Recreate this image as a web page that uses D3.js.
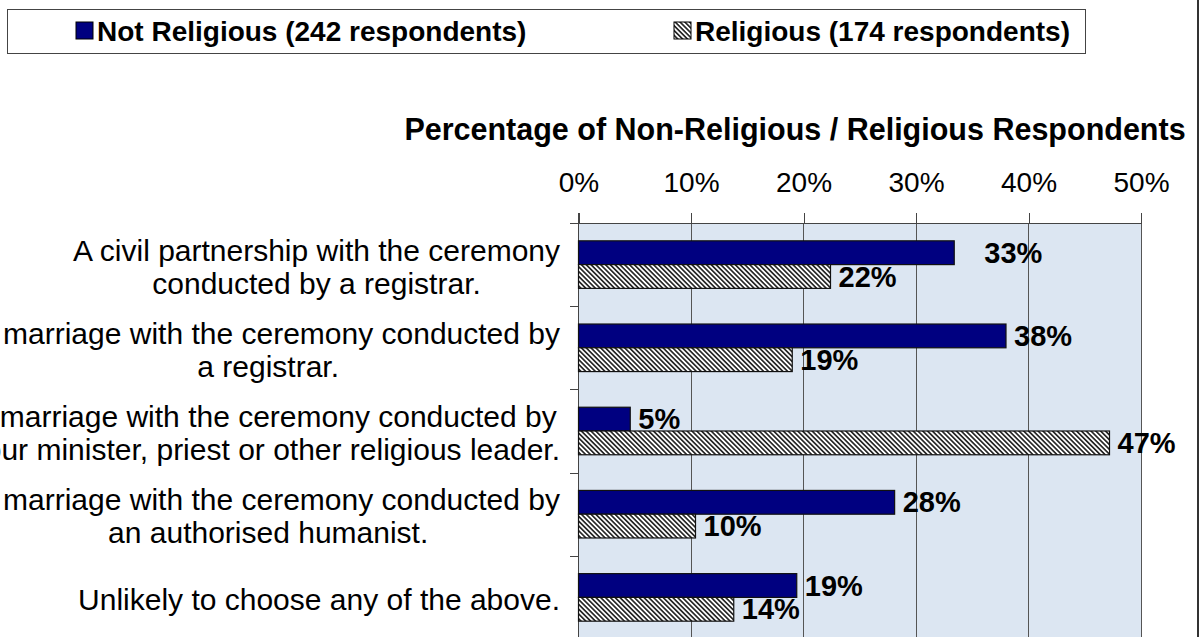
<!doctype html>
<html>
<head>
<script src="https://cdn.jsdelivr.net/npm/d3@7/dist/d3.min.js"></script>
<style>
  body { margin: 0; background: #fff; }
  svg { display: block; font-family: "Liberation Sans", Arial, sans-serif; }
  .grid line { stroke: #555; shape-rendering: crispEdges; }
  .axis path, .axis line { stroke: #444; shape-rendering: crispEdges; }
  .axis text { fill: #000; font-size: 28px; }
</style>
</head>
<body>
<svg width="1204" height="637"></svg>
<script>
// chart data
var categories = [
  ["A civil partnership with the ceremony", "conducted by a registrar."],
  ["A marriage with the ceremony conducted by", "a registrar."],
  ["A marriage with the ceremony conducted by", "your minister, priest or other religious leader."],
  ["A marriage with the ceremony conducted by", "an authorised humanist."],
  ["Unlikely to choose any of the above."]
];
var seriesNames = ["Not Religious (242 respondents)", "Religious (174 respondents)"];
var notReligious = [33.4, 38.0, 4.6, 28.1, 19.4];
var religious = [22.4, 19.0, 47.2, 10.4, 13.8];
var xTicks = [0, 10, 20, 30, 40, 50];
var axisTitle = "Percentage of Non-Religious / Religious Respondents";

var rows = categories.map((c, i) => ({ i: i, lines: c, values: [notReligious[i], religious[i]] }));

var svg = d3.select("svg");
var plotTop = 223, plotBottom = 639, plotLeft = 578.5, plotRight = 1141;

var x = d3.scaleLinear().domain([0, 50]).range([plotLeft, plotRight]);
var y = d3.scaleBand().domain(d3.range(categories.length)).range([plotTop, plotBottom]);
var ySub = d3.scaleBand().domain([0, 1]).range([0, y.bandwidth()]).paddingOuter(0.75);
var yEdge = d3.scaleLinear().domain([0, categories.length]).range([plotTop, plotBottom]);

// hatch pattern for the religious series
var defs = svg.append("defs");
var pat = defs.append("pattern")
  .attr("id", "hatch")
  .attr("patternUnits", "userSpaceOnUse")
  .attr("width", 3.4).attr("height", 3.4)
  .attr("patternTransform", "rotate(-45)");
pat.append("rect").attr("width", 3.4).attr("height", 3.4).attr("fill", "#fff");
pat.append("rect").attr("width", 1.7).attr("height", 3.4).attr("fill", "#2a2a2a");

var fills = ["#000080", "url(#hatch)"];

// outer frame edge
svg.append("line")
  .attr("x1", 1198).attr("x2", 1198).attr("y1", 0).attr("y2", 637)
  .attr("stroke", "#333").attr("stroke-width", 2);

// legend
svg.append("rect")
  .attr("x", 7.5).attr("y", 9.5).attr("width", 1078).attr("height", 44)
  .attr("fill", "#fff").attr("stroke", "#444");
var legendX = [76, 674];
var leg = svg.selectAll("g.legend")
  .data(seriesNames)
  .enter()
  .append("g")
    .attr("class", "legend")
    .attr("transform", (d, i) => `translate(${legendX[i]},22)`);
leg.append("rect")
  .attr("width", 17).attr("height", 17)
  .attr("fill", (d, i) => fills[i])
  .attr("stroke", "#000").attr("stroke-width", 1);
leg.append("text")
  .attr("x", 21).attr("y", 19)
  .style("font-size", "28px").style("font-weight", "bold")
  .text(d => d);

// plot background
svg.append("rect")
  .attr("x", plotLeft).attr("y", plotTop)
  .attr("width", plotRight - plotLeft).attr("height", plotBottom - plotTop)
  .attr("fill", "#dce6f2");

// gridlines
svg.append("g").attr("class", "grid")
  .selectAll("line")
  .data(xTicks.slice(1))
  .enter()
  .append("line")
    .attr("x1", d => x(d)).attr("x2", d => x(d))
    .attr("y1", plotTop).attr("y2", plotBottom);

// axis title
svg.append("text")
  .attr("x", 795).attr("y", 140)
  .attr("text-anchor", "middle")
  .style("font-size", "30.5px").style("font-weight", "bold")
  .text(axisTitle);

// top value axis
svg.append("g").attr("class", "axis")
  .attr("transform", `translate(0,${plotTop})`)
  .call(d3.axisTop(x).tickValues(xTicks).tickFormat(d => d + "%").tickSize(10).tickSizeOuter(0).tickPadding(21))
  .call(g => g.select(".domain").attr("stroke-width", 1.5));

// left category axis (ticks at category edges)
svg.append("g").attr("class", "axis")
  .attr("transform", `translate(${plotLeft},0)`)
  .call(d3.axisLeft(yEdge).ticks(categories.length).tickFormat("").tickSize(9).tickSizeOuter(0))
  .call(g => g.select(".domain").attr("d", `M0,${plotTop - 10}V${plotBottom}`));

// bars
var groups = svg.selectAll("g.cat")
  .data(rows)
  .enter()
  .append("g")
    .attr("class", "cat")
    .attr("transform", d => `translate(0,${y(d.i)})`);

groups.selectAll("rect")
  .data(d => d.values.map((v, s) => ({ v: v, s: s, i: d.i })))
  .enter()
  .append("rect")
    .attr("x", x(0))
    .attr("y", d => ySub(d.s))
    .attr("width", d => x(d.v) - x(0))
    .attr("height", ySub.bandwidth())
    .attr("fill", d => fills[d.s])
    .attr("stroke", "#111")
    .attr("stroke-width", 1.2);

// value labels
var labelShift = { "0-0": 22 };
var pct = d3.format(".0f");
groups.selectAll("text.val")
  .data(d => d.values.map((v, s) => ({ v: v, s: s, i: d.i })))
  .enter()
  .append("text")
    .attr("class", "val")
    .attr("x", d => x(d.v) + 8 + (labelShift[d.i + "-" + d.s] || 0))
    .attr("y", d => ySub(d.s) + ySub.bandwidth() / 2)
    .attr("dy", "0.35em")
    .style("font-size", "29px").style("font-weight", "bold")
    .text(d => pct(d.v) + "%");

// category labels, wrapped lines centred in a right-aligned box
var labelRight = 560, lineGap = 33;
rows.forEach(r => {
  var g = svg.append("g").attr("class", "catlabel");
  var cy = y(r.i) + y.bandwidth() / 2 + 2;
  var texts = r.lines.map((ln, k) => g.append("text")
    .attr("y", cy + (k - (r.lines.length - 1) / 2) * lineGap)
    .attr("dy", "0.35em")
    .attr("text-anchor", "middle")
    .style("font-size", "30px")
    .text(ln));
  var w = d3.max(texts, t => t.node().getComputedTextLength());
  texts.forEach(t => t.attr("x", labelRight - w / 2));
});
</script>
</body>
</html>
